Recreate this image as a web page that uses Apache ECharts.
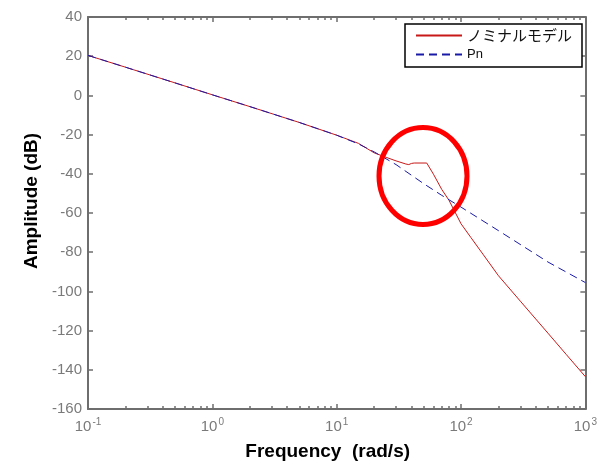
<!DOCTYPE html>
<html lang="ja">
<head>
	<meta charset="UTF-8">
	<title></title>
	<style>
		html, body { margin: 0; padding: 0; background: #fff; }
	</style>
</head>
<body>
	<div id="main" style="width: 600px;height: 466px"></div>
	<script src="https://cdn.jsdelivr.net/npm/echarts@6/dist/echarts.min.js"></script>
	<script>
		// 周波数 (rad/s) と振幅 (dB)
		var freqNominal = [0.1, 0.2, 0.5, 1, 2, 5, 10, 15, 20, 25, 30, 36, 38, 40, 42, 53, 60, 70, 80, 100, 120, 150, 200, 300, 500, 700, 1000];
		var ampNominal = [20.4, 14.4, 6.4, 0.3, -5.7, -13.8, -20.3, -24.5, -29.3, -31.6, -33.4, -35.0, -35.3, -34.7, -34.5, -34.5, -40.2, -48.0, -53.5, -65.5, -72.5, -81.0, -92.0, -105.0, -121.3, -132.1, -143.5];

		var freqPn = [0.1, 0.2, 0.5, 1, 2, 5, 10, 15, 20, 30, 50, 70, 100, 200, 500, 1000];
		var ampPn = [20.4, 14.4, 6.4, 0.3, -5.7, -13.8, -20.3, -24.8, -28.8, -35.3, -45.0, -51.0, -57.0, -69.0, -85.0, -95.5];

		var seriesNames = ['ノミナルモデル', 'Pn'];
		var yMin = -160, yMax = 40, yStep = 20;

		// 補助目盛 (2〜9 × 10^n) を log10 の値で
		var minorTicks = [];
		for (var d = -1; d < 3; d++) {
			for (var k = 2; k <= 9; k++) {
				minorTicks.push(Math.log10(k) + d);
			}
		}

		function pairs(xs, ys) {
			return xs.map(function (x, i) { return [x, ys[i]]; });
		}

		var axisColor = '#6e6e6e';
		var labelColor = '#7a7a7a';
		var tickStyle = { color: axisColor, width: 1.5 };

		var myChart = echarts.init(document.getElementById('main'));

		myChart.setOption({
			animation: false,
			grid: { left: 88, right: 13, top: 17, bottom: 56 },
			legend: {
				orient: 'vertical',
				left: 405,
				top: 24,
				padding: [4, 10, 6, 10],
				itemGap: 5,
				itemWidth: 46,
				itemHeight: 14,
				backgroundColor: '#fff',
				borderColor: '#000',
				borderWidth: 1.5,
				borderRadius: 0,
				lineStyle: { width: 2 },
				itemStyle: { opacity: 0 },
				data: [
					{ name: seriesNames[0], textStyle: { fontSize: 15, fontFamily: 'Noto Sans CJK JP', color: '#111' } },
					{ name: seriesNames[1], textStyle: { fontSize: 13, fontFamily: 'Liberation Sans', color: '#111' } }
				]
			},
			xAxis: [
				{
					type: 'log',
					logBase: 10,
					min: 0.1,
					max: 1000,
					position: 'bottom',
					name: 'Frequency  (rad/s)',
					nameLocation: 'middle',
					nameGap: 33,
					nameTextStyle: { fontSize: 19, fontWeight: 'bold', color: '#000', fontFamily: 'Liberation Sans', padding: [0, 18, 0, 0] },
					axisLine: { onZero: false, lineStyle: { color: axisColor, width: 2 } },
					axisTick: { inside: true, length: 5, lineStyle: tickStyle },
					splitLine: { show: false },
					axisLabel: {
						margin: 8,
						formatter: function (v) {
							return '{b|10}{s|' + Math.round(Math.log10(v)) + '}';
						},
						rich: {
							b: { fontSize: 15, color: labelColor, fontFamily: 'Liberation Sans' },
							s: { fontSize: 10, color: labelColor, fontFamily: 'Liberation Sans', verticalAlign: 'bottom', padding: [0, 0, 9, 1] }
						}
					}
				},
				{
					type: 'log',
					logBase: 10,
					min: 0.1,
					max: 1000,
					position: 'top',
					axisLine: { onZero: false, lineStyle: { color: axisColor, width: 2 } },
					axisTick: { inside: true, length: 5, lineStyle: tickStyle },
					axisLabel: { show: false },
					splitLine: { show: false }
				},
				{
					type: 'value',
					min: -1,
					max: 3,
					position: 'bottom',
					axisLine: { show: false, onZero: false },
					axisTick: { inside: true, length: 3, customValues: minorTicks, lineStyle: tickStyle },
					axisLabel: { show: false },
					splitLine: { show: false }
				},
				{
					type: 'value',
					min: -1,
					max: 3,
					position: 'top',
					axisLine: { show: false, onZero: false },
					axisTick: { inside: true, length: 3, customValues: minorTicks, lineStyle: tickStyle },
					axisLabel: { show: false },
					splitLine: { show: false }
				}
			],
			yAxis: [
				{
					type: 'value',
					min: yMin,
					max: yMax,
					interval: yStep,
					position: 'left',
					name: 'Amplitude (dB)',
					nameLocation: 'middle',
					nameGap: 45,
					nameTextStyle: { fontSize: 19, fontWeight: 'bold', color: '#000', fontFamily: 'Liberation Sans', padding: [0, 0, 0, 24] },
					axisLine: { show: true, onZero: false, lineStyle: { color: axisColor, width: 2 } },
					axisTick: { show: true, inside: true, length: 5, lineStyle: tickStyle },
					splitLine: { show: false },
					axisLabel: { fontSize: 15, color: labelColor, fontFamily: 'Liberation Sans', margin: 6 }
				},
				{
					type: 'value',
					min: yMin,
					max: yMax,
					interval: yStep,
					position: 'right',
					axisLine: { show: true, onZero: false, lineStyle: { color: axisColor, width: 2 } },
					axisTick: { show: true, inside: true, length: 5, lineStyle: tickStyle },
					splitLine: { show: false },
					axisLabel: { show: false }
				}
			],
			series: [
				{
					name: seriesNames[0],
					type: 'line',
					xAxisIndex: 0,
					yAxisIndex: 0,
					symbol: 'none',
					color: '#e00000',
					lineStyle: { color: '#c81818', width: 1 },
					data: pairs(freqNominal, ampNominal)
				},
				{
					name: seriesNames[1],
					type: 'line',
					xAxisIndex: 0,
					yAxisIndex: 0,
					symbol: 'none',
					color: '#0000c8',
					lineStyle: { color: '#1a1aa8', width: 1, type: [8, 5] },
					data: pairs(freqPn, ampPn)
				}
			],
			graphic: [
				{
					type: 'ellipse',
					shape: { cx: 423, cy: 176, rx: 44, ry: 48.5 },
					style: { fill: 'none', stroke: '#ff0000', lineWidth: 5 },
					z: 100
				}
			]
		});
	</script>
</body>
</html>
